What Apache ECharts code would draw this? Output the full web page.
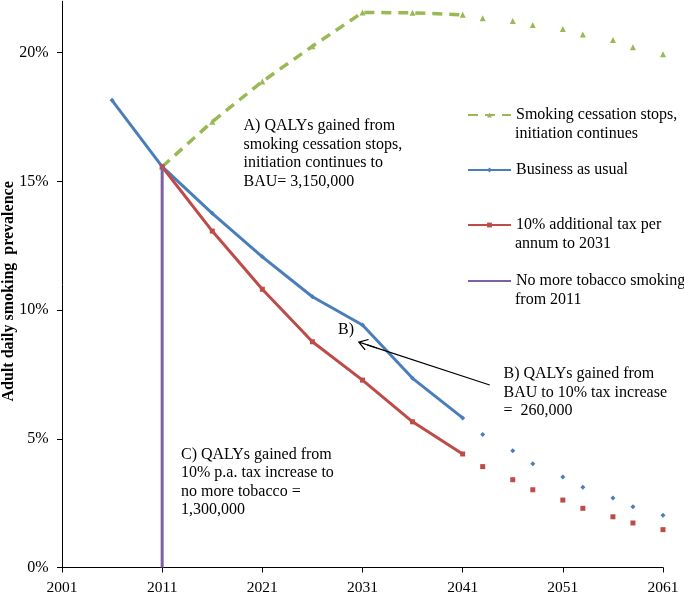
<!DOCTYPE html>
<html>
<head>
<meta charset="utf-8">
<script src="https://cdn.jsdelivr.net/npm/echarts@6/dist/echarts.min.js"></script>
<style>
html,body{margin:0;padding:0;background:#fff;}
#chart{width:684px;height:593px;}
</style>
</head>
<body>
<div id="chart"></div>
<script>
// ---- data ----
const xTicks = [2001, 2011, 2021, 2031, 2041, 2051, 2061];
const yTicks = [0, 5, 10, 15, 20];

const bauYears = [2006, 2011, 2016, 2021, 2026, 2031, 2036, 2041];
const bauValues = [18.15, 15.57, 13.76, 12.07, 10.52, 9.42, 7.35, 5.81];

const taxYears = [2011, 2016, 2021, 2026, 2031, 2036, 2041];
const taxValues = [15.57, 13.07, 10.81, 8.77, 7.28, 5.66, 4.41];

const stopYears = [2011, 2016, 2021, 2026, 2031, 2036, 2041];
const stopValues = [15.57, 17.32, 18.88, 20.25, 21.56, 21.55, 21.47];

const laterYears = [2043, 2046, 2048, 2051, 2053, 2056, 2058, 2061];
const bauLater = [5.17, 4.54, 4.03, 3.52, 3.12, 2.70, 2.36, 2.03];
const taxLater = [3.92, 3.41, 3.02, 2.62, 2.30, 1.97, 1.73, 1.47];
const stopLater = [21.34, 21.23, 21.08, 20.92, 20.71, 20.49, 20.21, 19.94];

const noMoreYears = [2011, 2011];
const noMoreValues = [0, 15.57];

const arrowFrom = [2043.7, 7.09];
const arrowTo = [2031.47, 8.65];

const names = {
  stop: 'Smoking cessation stops,\ninitiation continues',
  bau: 'Business as usual',
  tax: '10% additional tax per\nannum to 2031',
  none: 'No more tobacco smoking\nfrom 2011'
};
const noteA = 'A) QALYs gained from\nsmoking cessation stops,\ninitiation continues to\nBAU= 3,150,000';
const noteB = 'B) QALYs gained from\nBAU to 10% tax increase\n=  260,000';
const noteBShort = 'B)';
const noteC = 'C) QALYs gained from\n10% p.a. tax increase to\nno more tobacco =\n1,300,000';

// ---- styling ----
const FONT = '"Liberation Serif", "Times New Roman", serif';
const C_BLUE = '#4A7EBB', C_RED = '#BE4B48', C_GREEN = '#98B954', C_PURPLE = '#7D60A0';
const zip = (xs, ys) => xs.map((x, i) => [x, ys[i]]);
const LH = 18.4;
const LEG_LEFT = 467;
const LEG_TEXT_X = 515;

const arrowPath = 'path://M6,0 L12,9.2 L11,10 L6,2.3 L1,10 L0,9.2 Z M5.4,1.5 L6.6,1.5 L6.6,20 L5.4,20 Z';

function legendAt(name, centerY, hideSymbol) {
  const l = {
    data: [name],
    orient: 'vertical',
    left: LEG_LEFT,
    top: centerY - LH / 2,
    padding: 0,
    itemWidth: 43,
    itemHeight: 6,
    itemGap: 0,
    selectedMode: false,
    formatter: n => n.split('\n')[0],
    textStyle: {fontFamily: FONT, fontSize: 16, color: '#000', lineHeight: LH}
  };
  if (hideSymbol) l.itemStyle = {opacity: 0};
  return l;
}
function secondLine(name, centerY) {
  const parts = name.split('\n');
  if (parts.length < 2) return null;
  return {type: 'text', left: LEG_TEXT_X, top: centerY + LH / 2, silent: true,
    style: {text: parts.slice(1).join('\n'), font: '16px ' + FONT, fill: '#000', lineHeight: LH}};
}
const legendRows = [[names.stop, 115, false], [names.bau, 170, false], [names.tax, 225, false], [names.none, 281, true]];

const chart = echarts.init(document.getElementById('chart'), null, {renderer: 'canvas'});
chart.setOption({
  animation: false,
  backgroundColor: '#fff',
  grid: {left: 62, right: 21, top: 1.2, bottom: 25.5, outerBoundsMode: 'none', containLabel: false},
  xAxis: {
    type: 'value', min: 2001, max: 2061,
    splitLine: {show: false},
    axisLine: {lineStyle: {color: '#000', width: 1}},
    axisTick: {show: true, length: 5, inside: false, lineStyle: {color: '#000'}, customValues: xTicks},
    axisLabel: {customValues: xTicks, fontFamily: FONT, fontSize: 15.5, color: '#000', margin: 12,
      formatter: v => String(v)}
  },
  yAxis: {
    type: 'value', min: 0, max: 22,
    name: 'Adult daily smoking  prevalence',
    nameLocation: 'middle', nameRotate: 90, nameGap: 45, nameMoveOverlap: false,
    nameTextStyle: {fontFamily: FONT, fontSize: 16, fontWeight: 'bold', color: '#000', padding: [0, 14, 0, 0]},
    splitLine: {show: false},
    axisLine: {show: true, lineStyle: {color: '#000', width: 1}},
    axisTick: {show: true, length: 5, lineStyle: {color: '#000'}, customValues: yTicks},
    axisLabel: {customValues: yTicks, fontFamily: FONT, fontSize: 16, color: '#000', margin: 13.5,
      formatter: v => v + '%'}
  },
  legend: legendRows.map(r => legendAt(r[0], r[1], r[2])),
  series: [
    {
      name: names.stop, type: 'line', data: zip(stopYears, stopValues),
      symbol: 'triangle', symbolSize: 6, showAllSymbol: true,
      itemStyle: {color: C_GREEN},
      lineStyle: {color: C_GREEN, width: 3.5, type: [10, 7], cap: 'butt'},
      z: 2
    },
    {
      name: 'stop-later', type: 'line', data: zip(laterYears, stopLater),
      symbol: 'triangle', symbolSize: 6, showAllSymbol: true,
      itemStyle: {color: C_GREEN}, lineStyle: {width: 0, opacity: 0}, z: 2
    },
    {
      name: names.bau, type: 'line', data: zip(bauYears, bauValues),
      symbol: 'diamond', symbolSize: 5, showAllSymbol: true,
      itemStyle: {color: C_BLUE}, lineStyle: {color: C_BLUE, width: 3}, z: 3
    },
    {
      name: 'bau-later', type: 'line', data: zip(laterYears, bauLater),
      symbol: 'diamond', symbolSize: 5, showAllSymbol: true,
      itemStyle: {color: C_BLUE}, lineStyle: {width: 0, opacity: 0}, z: 3
    },
    {
      name: names.tax, type: 'line', data: zip(taxYears, taxValues),
      symbol: 'rect', symbolSize: 5, showAllSymbol: true,
      itemStyle: {color: C_RED}, lineStyle: {color: C_RED, width: 3}, z: 4
    },
    {
      name: 'tax-later', type: 'line', data: zip(laterYears, taxLater),
      symbol: 'rect', symbolSize: 5, showAllSymbol: true,
      itemStyle: {color: C_RED}, lineStyle: {width: 0, opacity: 0}, z: 4
    },
    {
      name: names.none, type: 'line', data: zip(noMoreYears, noMoreValues),
      symbol: 'none', itemStyle: {color: C_PURPLE},
      lineStyle: {color: C_PURPLE, width: 3}, z: 5,
      markLine: {
        silent: true, animation: false,
        symbol: ['none', arrowPath], symbolSize: [12, 20],
        lineStyle: {color: '#000', width: 1.3, type: 'solid'},
        itemStyle: {color: '#000'},
        label: {show: false}, emphasis: {disabled: true},
        data: [[{coord: arrowFrom}, {coord: arrowTo}]]
      }
    }
  ],
  graphic: [
    {type: 'text', left: 243.5, top: 117, silent: true,
      style: {text: noteA, font: '16px ' + FONT, fill: '#000', lineHeight: LH}},
    {type: 'text', left: 338, top: 321, silent: true,
      style: {text: noteBShort, font: '16px ' + FONT, fill: '#000', lineHeight: LH}},
    {type: 'text', left: 503.5, top: 365, silent: true,
      style: {text: noteB, font: '16px ' + FONT, fill: '#000', lineHeight: LH}},
    {type: 'text', left: 181, top: 445.5, silent: true,
      style: {text: noteC, font: '16px ' + FONT, fill: '#000', lineHeight: LH}}
  ].concat(legendRows.map(r => secondLine(r[0], r[1])).filter(Boolean))
});
</script>
</body>
</html>
